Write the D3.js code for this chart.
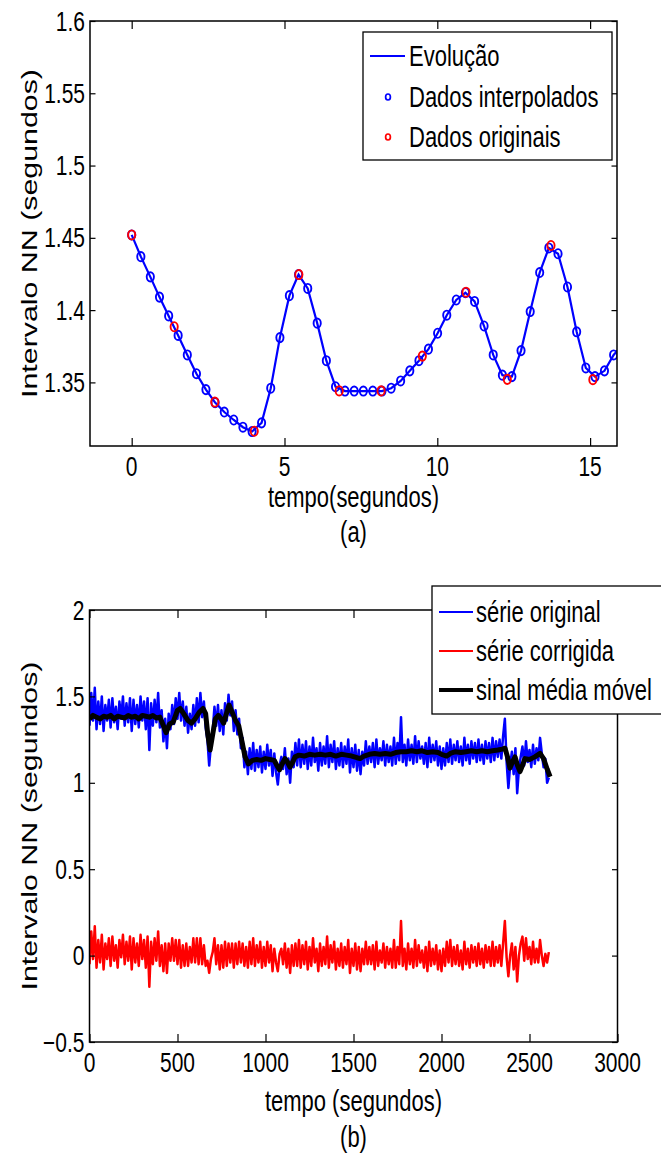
<!DOCTYPE html>
<html>
<head>
<meta charset="utf-8">
<script src="https://cdn.jsdelivr.net/npm/d3@7"></script>
<style>
  body { margin: 0; background: #fff; }
  svg { display: block; }
  text { font-family: "Liberation Sans", Arial, Helvetica, sans-serif; fill: #000; }
</style>
</head>
<body>
<svg id="fig" width="661" height="1153"></svg>
<script>
// ---- (a) interpolated NN series ----
const interpT = [0, 0.30, 0.61, 0.91, 1.21, 1.52, 1.82, 2.12, 2.43, 2.73,
  3.03, 3.34, 3.64, 3.94, 4.25, 4.55, 4.85, 5.16, 5.46, 5.76,
  6.07, 6.37, 6.67, 6.98, 7.28, 7.58, 7.89, 8.19, 8.49, 8.80,
  9.10, 9.40, 9.71, 10.01, 10.31, 10.62, 10.92, 11.22, 11.53, 11.83,
  12.13, 12.44, 12.74, 13.04, 13.35, 13.65, 13.95, 14.26, 14.56, 14.86,
  15.16, 15.47, 15.77, 16.07];
const interpV = [1.452, 1.437, 1.423, 1.409, 1.396, 1.3825, 1.369, 1.356, 1.345, 1.336,
  1.3295, 1.324, 1.319, 1.316, 1.322, 1.346, 1.381, 1.410, 1.4246, 1.415,
  1.391, 1.365, 1.347, 1.344, 1.344, 1.344, 1.344, 1.344, 1.346, 1.351,
  1.358, 1.365, 1.373, 1.384, 1.3965, 1.407, 1.412, 1.406, 1.389, 1.369,
  1.355, 1.354, 1.372, 1.399, 1.426, 1.443, 1.439, 1.416, 1.385, 1.360,
  1.354, 1.358, 1.369, 1.376];
// original beats
const origT = [0, 1.39, 2.72, 4.01, 5.47, 6.79, 8.16, 9.51, 10.94, 12.29, 13.72, 15.09];
const origV = [1.452, 1.3885, 1.3364, 1.3162, 1.4246, 1.3441, 1.3441, 1.3682, 1.4124, 1.3521, 1.4447, 1.3519];

const topXTicks = [0, 5, 10, 15];
const topYTicks = [1.35, 1.4, 1.45, 1.5, 1.55, 1.6];
const topLegend = ["Evolução", "Dados interpolados", "Dados originais"];

// ---- (b) full record, one value every 10 s ----
const serieDt = 10;
const serieOriginal = [
  1.33,1.52,1.36,1.55,1.31,1.47,1.34,1.50,1.30,1.45,
  1.36,1.48,1.32,1.49,1.35,1.44,1.31,1.47,1.37,1.50,
  1.33,1.46,1.35,1.49,1.30,1.48,1.34,1.45,1.32,1.50,
  1.36,1.47,1.31,1.49,1.19,1.46,1.33,1.48,1.35,1.52,
  1.32,1.42,1.24,1.37,1.20,1.40,1.31,1.45,1.34,1.49,
  1.37,1.52,1.36,1.47,1.33,1.44,1.29,1.40,1.31,1.45,
  1.33,1.49,1.35,1.52,1.38,1.47,1.32,1.25,1.10,1.22,
  1.30,1.44,1.33,1.45,1.30,1.42,1.28,1.46,1.36,1.51,
  1.39,1.47,1.30,1.42,1.28,1.37,1.20,1.26,1.09,1.18,
  1.05,1.20,1.08,1.23,1.07,1.19,1.09,1.21,1.06,1.18,
  1.08,1.22,1.10,1.19,1.04,1.17,1.06,0.99,1.10,1.15,
  1.08,1.20,1.05,1.14,1.00,1.18,1.09,1.23,1.10,1.25,
  1.09,1.22,1.11,1.24,1.08,1.21,1.10,1.26,1.12,1.20,
  1.07,1.23,1.10,1.21,1.11,1.27,1.09,1.22,1.12,1.24,
  1.08,1.20,1.10,1.23,1.09,1.21,1.11,1.25,1.06,1.20,
  1.09,1.22,1.07,1.19,1.05,1.18,1.10,1.24,1.11,1.21,
  1.12,1.23,1.09,1.25,1.11,1.20,1.13,1.24,1.10,1.22,
  1.12,1.21,1.10,1.26,1.11,1.23,1.13,1.38,1.12,1.22,
  1.10,1.25,1.13,1.22,1.11,1.27,1.12,1.24,1.14,1.21,
  1.11,1.23,1.09,1.26,1.12,1.22,1.13,1.24,1.10,1.21,
  1.08,1.20,1.10,1.23,1.12,1.25,1.11,1.22,1.13,1.24,
  1.12,1.21,1.10,1.26,1.13,1.22,1.11,1.24,1.14,1.23,
  1.12,1.25,1.13,1.22,1.11,1.24,1.14,1.23,1.12,1.26,
  1.13,1.24,1.15,1.25,1.14,1.27,1.37,1.12,0.97,1.10,
  1.18,1.05,1.20,0.94,1.08,1.15,1.21,1.10,1.24,1.12,
  1.19,1.09,1.22,1.11,1.20,1.13,1.26,1.17,1.09,1.14,
  1.00,1.03];
const serieCorrigida = [
  -0.05,0.14,-0.02,0.17,-0.07,0.09,-0.04,0.12,-0.08,0.07,
  -0.02,0.10,-0.06,0.11,-0.03,0.06,-0.07,0.09,-0.01,0.12,
  -0.05,0.08,-0.03,0.11,-0.08,0.10,-0.04,0.07,-0.06,0.12,
  -0.02,0.09,-0.07,0.11,-0.18,0.08,-0.05,0.10,-0.03,0.14,
  -0.06,0.06,-0.09,0.07,-0.10,0.07,-0.03,0.10,-0.03,0.09,
  -0.05,0.09,-0.07,0.06,-0.06,0.07,-0.06,0.05,-0.04,0.10,
  -0.04,0.10,-0.05,0.10,-0.05,0.06,-0.06,-0.03,-0.10,-0.02,
  0.02,0.10,-0.05,0.06,-0.08,0.06,-0.07,0.08,-0.06,0.07,
  -0.04,0.07,-0.07,0.07,-0.05,0.08,-0.04,0.07,-0.06,0.05,
  -0.07,0.08,-0.05,0.10,-0.06,0.06,-0.04,0.08,-0.07,0.05,
  -0.06,0.08,-0.04,0.06,-0.09,0.04,-0.04,-0.09,0.01,0.04,
  -0.05,0.07,-0.07,0.04,-0.10,0.06,-0.06,0.07,-0.06,0.09,
  -0.07,0.06,-0.05,0.08,-0.08,0.05,-0.06,0.10,-0.04,0.04,
  -0.09,0.07,-0.06,0.05,-0.05,0.11,-0.07,0.06,-0.04,0.08,
  -0.08,0.04,-0.06,0.07,-0.07,0.05,-0.05,0.09,-0.10,0.04,
  -0.06,0.07,-0.08,0.05,-0.09,0.04,-0.05,0.08,-0.05,0.05,
  -0.05,0.06,-0.08,0.08,-0.06,0.03,-0.04,0.07,-0.07,0.05,
  -0.05,0.04,-0.07,0.09,-0.07,0.05,-0.05,0.20,-0.06,0.04,
  -0.08,0.07,-0.05,0.04,-0.07,0.09,-0.06,0.06,-0.04,0.03,
  -0.07,0.05,-0.09,0.08,-0.06,0.04,-0.05,0.06,-0.08,0.03,
  -0.09,0.04,-0.06,0.08,-0.04,0.09,-0.06,0.05,-0.05,0.06,
  -0.06,0.03,-0.08,0.08,-0.05,0.04,-0.07,0.06,-0.04,0.05,
  -0.06,0.07,-0.05,0.04,-0.07,0.06,-0.04,0.05,-0.06,0.08,
  -0.06,0.05,-0.04,0.06,-0.06,0.07,0.20,-0.01,-0.12,0.00,
  0.07,-0.08,0.05,-0.15,0.00,0.07,0.11,-0.03,0.10,-0.02,
  0.05,-0.05,0.08,-0.04,0.04,-0.04,0.09,0.00,-0.06,0.01,
  -0.04,0.02];
// moving average (black), knots
const mediaT = [0,20,40,60,80,100,120,140,160,180,200,220,240,260,280,300,320,340,360,380,
  400,420,435,455,475,500,515,535,560,580,600,625,645,660,672,685,700,715,732,748,
  762,778,793,810,830,848,866,884,903,925,950,975,1000,1025,1050,1065,1079,1095,1111,1125,
  1139,1155,1168,1190,1220,1250,1280,1310,1340,1370,1400,1430,1460,1490,1520,1537,1560,1590,1620,1650,
  1680,1710,1740,1770,1800,1830,1860,1890,1920,1950,1980,2000,2030,2050,2080,2110,2140,2170,2200,2230,
  2260,2290,2320,2345,2361,2375,2389,2403,2418,2432,2446,2460,2474,2500,2530,2560,2580,2600,2617];
const mediaV = [1.37,1.39,1.38,1.37,1.385,1.38,1.39,1.37,1.385,1.38,1.375,1.39,1.38,1.385,1.37,1.39,1.385,1.38,1.39,1.375,
  1.38,1.33,1.29,1.34,1.35,1.42,1.43,1.40,1.36,1.345,1.37,1.41,1.43,1.40,1.28,1.19,1.28,1.37,1.39,1.37,
  1.345,1.40,1.45,1.41,1.36,1.33,1.24,1.15,1.11,1.13,1.135,1.13,1.14,1.135,1.13,1.10,1.075,1.11,1.14,1.12,
  1.09,1.12,1.15,1.16,1.155,1.165,1.16,1.165,1.16,1.165,1.155,1.165,1.16,1.155,1.145,1.14,1.155,1.165,1.17,1.165,
  1.17,1.165,1.175,1.18,1.18,1.185,1.18,1.185,1.175,1.18,1.175,1.165,1.155,1.17,1.18,1.175,1.18,1.185,1.18,1.185,
  1.18,1.185,1.19,1.195,1.20,1.15,1.085,1.12,1.15,1.10,1.065,1.10,1.14,1.135,1.15,1.17,1.14,1.08,1.035];

const botXTicks = [0, 500, 1000, 1500, 2000, 2500, 3000];
const botYTicks = [-0.5, 0, 0.5, 1, 1.5, 2];
const botLegend = ["série original", "série corrigida", "sinal média móvel"];

// ---- drawing ----
const SY = 1.3; // the figure is stretched vertically
const svg = d3.select("#fig");

function stretchText(g, s, x, y, size, anchor, vertical) {
  return g.append("text")
    .attr("transform", vertical
      ? `translate(${x},${y}) rotate(-90) scale(${SY + 0.08},1)`
      : `translate(${x},${y}) scale(1,${SY})`)
    .attr("text-anchor", anchor || "middle")
    .attr("dominant-baseline", "central")
    .style("font-size", size + "px")
    .text(s);
}

function axesTicks(g, box, x, y, xTicks, yTicks) {
  g.append("g").attr("transform", `translate(0,${box.b})`)
    .call(d3.axisBottom(x).tickValues(xTicks).tickSizeInner(-8).tickSizeOuter(0).tickFormat(""));
  g.append("g").attr("transform", `translate(0,${box.t})`)
    .call(d3.axisTop(x).tickValues(xTicks).tickSizeInner(-8).tickSizeOuter(0).tickFormat(""));
  g.append("g").attr("transform", `translate(${box.l},0)`)
    .call(d3.axisLeft(y).tickValues(yTicks).tickSizeInner(-5.5).tickSizeOuter(0).tickFormat(""));
  g.append("g").attr("transform", `translate(${box.r},0)`)
    .call(d3.axisRight(y).tickValues(yTicks).tickSizeInner(-5.5).tickSizeOuter(0).tickFormat(""));
  g.selectAll(".domain").remove();
  g.selectAll(".tick line").attr("stroke", "#000").attr("stroke-width", 1.2);
  g.append("rect")
    .attr("x", box.l).attr("y", box.t)
    .attr("width", box.r - box.l).attr("height", box.b - box.t)
    .attr("fill", "none").attr("stroke", "#000").attr("stroke-width", 1.5);
}

function tickLabels(g, box, x, y, xTicks, yTicks) {
  const fmt = v => String(v).replace("-", "\u2212");
  xTicks.forEach(v => stretchText(g, fmt(v), x(v), box.b + 20, 21));
  yTicks.forEach(v => stretchText(g, fmt(v), box.l - 5, y(v), 21, "end"));
}

// ===== chart (a) =====
const boxA = {l: 90, r: 617, t: 21, b: 446};
const xA = d3.scaleLinear().domain([-1.364, 15.88]).range([boxA.l, boxA.r]);
const yA = d3.scaleLinear().domain([1.306, 1.6]).range([boxA.b, boxA.t]);
const gA = svg.append("g");

gA.append("clipPath").attr("id", "clipA").append("rect")
  .attr("x", boxA.l).attr("y", boxA.t).attr("width", boxA.r - boxA.l).attr("height", boxA.b - boxA.t);
const dataA = gA.append("g").attr("clip-path", "url(#clipA)");

dataA.append("path")
  .attr("d", d3.line().x(i => xA(interpT[i])).y(i => yA(interpV[i]))(d3.range(interpT.length)))
  .attr("fill", "none").attr("stroke", "#0000ff").attr("stroke-width", 2.2);
dataA.selectAll("ellipse.interp").data(d3.range(interpT.length)).join("ellipse")
  .attr("class", "interp")
  .attr("cx", i => xA(interpT[i])).attr("cy", i => yA(interpV[i]))
  .attr("rx", 3.6).attr("ry", 4.6)
  .attr("fill", "none").attr("stroke", "#0000ff").attr("stroke-width", 1.9);
dataA.selectAll("ellipse.orig").data(d3.range(origT.length)).join("ellipse")
  .attr("class", "orig")
  .attr("cx", i => xA(origT[i])).attr("cy", i => yA(origV[i]))
  .attr("rx", 3.6).attr("ry", 4.6)
  .attr("fill", "none").attr("stroke", "#ff0000").attr("stroke-width", 1.9);

axesTicks(gA, boxA, xA, yA, topXTicks, topYTicks);
tickLabels(gA, boxA, xA, yA, topXTicks, topYTicks);
stretchText(gA, "tempo(segundos)", (boxA.l + boxA.r) / 2, 497, 22);
stretchText(gA, "(a)", (boxA.l + boxA.r) / 2, 532, 22);
stretchText(gA, "Intervalo NN (segundos)", 30, (boxA.t + boxA.b) / 2, 22, "middle", true);

// legend (a)
const legA = gA.append("g");
legA.append("rect").attr("x", 363).attr("y", 32).attr("width", 249).attr("height", 128)
  .attr("fill", "#fff").attr("stroke", "#000").attr("stroke-width", 1.3);
const rowsA = [56, 97, 137];
legA.append("line").attr("x1", 370).attr("x2", 405).attr("y1", rowsA[0]).attr("y2", rowsA[0])
  .attr("stroke", "#0000ff").attr("stroke-width", 2.2);
legA.append("ellipse").attr("cx", 388).attr("cy", rowsA[1]).attr("rx", 2.4).attr("ry", 3)
  .attr("fill", "none").attr("stroke", "#0000ff").attr("stroke-width", 1.7);
legA.append("ellipse").attr("cx", 388).attr("cy", rowsA[2]).attr("rx", 2.4).attr("ry", 3)
  .attr("fill", "none").attr("stroke", "#ff0000").attr("stroke-width", 1.7);
topLegend.forEach((s, i) => stretchText(legA, s, 409, rowsA[i], 22, "start"));

// ===== chart (b) =====
const boxB = {l: 89.5, r: 617.5, t: 610, b: 1042};
const xB = d3.scaleLinear().domain([0, 3000]).range([boxB.l, boxB.r]);
const yB = d3.scaleLinear().domain([-0.5, 2]).range([boxB.b, boxB.t]);
const gB = svg.append("g");

gB.append("clipPath").attr("id", "clipB").append("rect")
  .attr("x", boxB.l).attr("y", boxB.t).attr("width", boxB.r - boxB.l).attr("height", boxB.b - boxB.t);
const dataB = gB.append("g").attr("clip-path", "url(#clipB)");

const serieLine = d3.line().x((d, i) => xB(i * serieDt)).y(d => yB(d));
dataB.append("path").attr("d", serieLine(serieOriginal))
  .attr("fill", "none").attr("stroke", "#0000ff").attr("stroke-width", 2.5).attr("stroke-linejoin", "round");
dataB.append("path").attr("d", serieLine(serieCorrigida))
  .attr("fill", "none").attr("stroke", "#ff0000").attr("stroke-width", 2.5).attr("stroke-linejoin", "round");
dataB.append("path")
  .attr("d", d3.line().x(i => xB(mediaT[i])).y(i => yB(mediaV[i]))(d3.range(mediaT.length)))
  .attr("fill", "none").attr("stroke", "#000").attr("stroke-width", 5).attr("stroke-linejoin", "round");

axesTicks(gB, boxB, xB, yB, botXTicks, botYTicks);
tickLabels(gB, boxB, xB, yB, botXTicks, botYTicks);
stretchText(gB, "tempo (segundos)", (boxB.l + boxB.r) / 2, 1101, 22);
stretchText(gB, "(b)", (boxB.l + boxB.r) / 2, 1137, 22);
stretchText(gB, "Intervalo NN (segundos)", 30, (boxB.t + boxB.b) / 2, 22, "middle", true);

// legend (b)
const legB = gB.append("g");
legB.append("rect").attr("x", 432).attr("y", 586).attr("width", 240).attr("height", 128)
  .attr("fill", "#fff").attr("stroke", "#000").attr("stroke-width", 1.3);
const rowsB = [612, 651, 690];
const colB = ["#0000ff", "#ff0000", "#000"];
const widB = [2, 2, 4];
botLegend.forEach((s, i) => {
  legB.append("line").attr("x1", 439).attr("x2", 473).attr("y1", rowsB[i]).attr("y2", rowsB[i])
    .attr("stroke", colB[i]).attr("stroke-width", widB[i]);
  stretchText(legB, s, 476, rowsB[i], 22, "start");
});
</script>
</body>
</html>
